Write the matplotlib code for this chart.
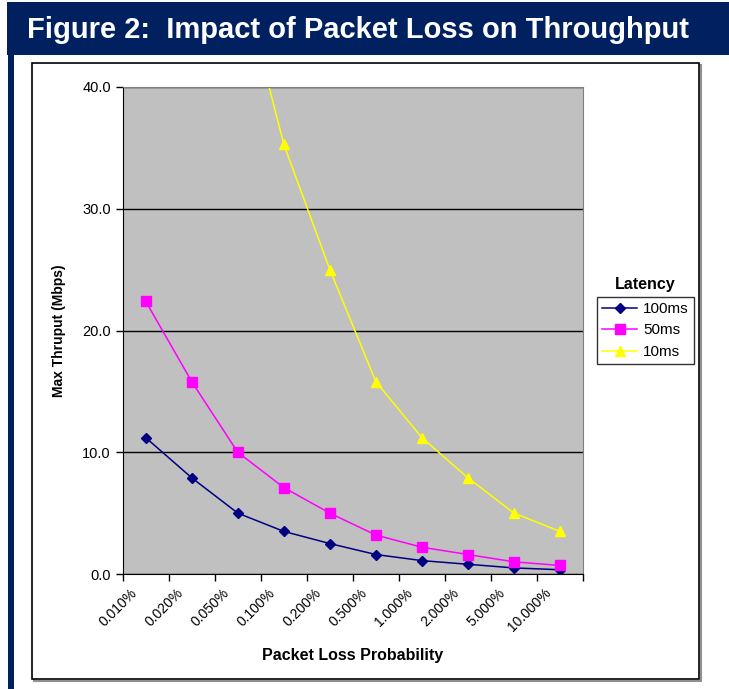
import matplotlib
matplotlib.use("Agg")
import matplotlib.pyplot as plt
from matplotlib.patches import Rectangle
from matplotlib.transforms import ScaledTranslation

plt.rcParams['font.family'] = ['Liberation Sans', 'DejaVu Sans']

# donnees
categories = ["0.010%", "0.020%", "0.050%", "0.100%", "0.200%",
              "0.500%", "1.000%", "2.000%", "5.000%", "10.000%"]
lat_100ms = [11.2, 7.9, 5.0, 3.5, 2.5, 1.6, 1.1, 0.8, 0.5, 0.35]
lat_50ms = [22.4, 15.8, 10.0, 7.1, 5.0, 3.2, 2.2, 1.6, 1.0, 0.7]
lat_10ms = [112.0, 79.0, 50.0, 35.3, 25.0, 15.8, 11.2, 7.9, 5.0, 3.5]
series_names = ["100ms", "50ms", "10ms"]

W, H = 729, 689
fig = plt.figure(figsize=(W / 100, H / 100), dpi=100)

def px(x0, y0, x1, y1):
    # rectangle en pixels -> fraction de figure
    return (x0 / W, 1 - y1 / H), (x1 - x0) / W, (y1 - y0) / H

navy = "#002060"

# bandeau titre + bande gauche
xy, w, h = px(7, 2, 729, 55)
fig.add_artist(Rectangle(xy, w, h, transform=fig.transFigure, color=navy, lw=0, zorder=-5))
xy, w, h = px(8, 55, 13.5, 689)
fig.add_artist(Rectangle(xy, w, h, transform=fig.transFigure, color=navy, lw=0, zorder=-5))
fig.text(27 / W, 1 - 30 / H, "Figure 2:  Impact of Packet Loss on Throughput",
         color="white", fontsize=21, fontweight="bold", va="center", ha="left",
         family=["Liberation Sans Narrow", "Liberation Sans", "DejaVu Sans"])

# cadre du graphique avec ombre
xy, w, h = px(34, 65, 701, 681)
fig.add_artist(Rectangle(xy, w, h, transform=fig.transFigure, fc="none", ec="#909090", lw=1.5, zorder=-4))
xy, w, h = px(32, 63, 699, 679)
fig.add_artist(Rectangle(xy, w, h, transform=fig.transFigure, fc="white", ec="black", lw=1.2, zorder=-3))

ax = fig.add_axes([122.7 / W, 1 - 574 / H, (583 - 122.7) / W, (574 - 87) / H])
ax.set_facecolor("#C0C0C0")

x = [i + 0.5 for i in range(len(categories))]
l1, = ax.plot(x, lat_100ms, color="#000080", marker="D", ms=5.5, lw=1.1)
l2, = ax.plot(x, lat_50ms, color="#FF00FF", marker="s", ms=6.5, lw=1.1)
l3, = ax.plot(x, lat_10ms, color="#FFFF00", marker="^", ms=7.5, lw=1.1)

ax.set_xlim(0, len(categories))
ax.set_ylim(0, 40)
ax.set_yticks([0, 10, 20, 30, 40])
ax.set_yticklabels(["0.0", "10.0", "20.0", "30.0", "40.0"], fontsize=10.5)
ax.yaxis.grid(True, color="black", lw=1)
ax.set_axisbelow(True)

ax.set_xticks(range(len(categories) + 1))
ax.set_xticklabels([])
ax.set_xticks(x, minor=True)
ax.set_xticklabels(categories, minor=True, rotation=45, ha="right", va="center",
                   rotation_mode="anchor", fontsize=10)
ax.tick_params(axis="x", which="minor", length=0, pad=12)
ax.tick_params(axis="both", which="major", direction="out", length=5, width=1)
decal = ScaledTranslation(-11 / 100, 0, fig.dpi_scale_trans)
for lab in ax.get_xticklabels(minor=True):
    lab.set_transform(lab.get_transform() + decal)

for s in ["left", "bottom"]:
    ax.spines[s].set_color("black")
for s in ["top", "right"]:
    ax.spines[s].set_color("#808080")

ax.set_ylabel("Max Thruput (Mbps)", fontsize=10, fontweight="bold", labelpad=12)
ax.set_xlabel("Packet Loss Probability", fontsize=11.5, fontweight="bold", labelpad=10)

leg = ax.legend([l1, l2, l3], series_names, loc="center",
                bbox_to_anchor=(645.5 / W, 1 - 330.5 / H), bbox_transform=fig.transFigure,
                fontsize=11, frameon=True, fancybox=False, handlelength=2.3,
                borderpad=0.35, labelspacing=0.5, handletextpad=0.4)
leg.get_frame().set_edgecolor("black")
leg.get_frame().set_linewidth(1)
fig.text(645 / W, 1 - 285 / H, "Latency", fontsize=11.5, fontweight="bold",
         ha="center", va="center")

fig.savefig("out.png", dpi=100)
